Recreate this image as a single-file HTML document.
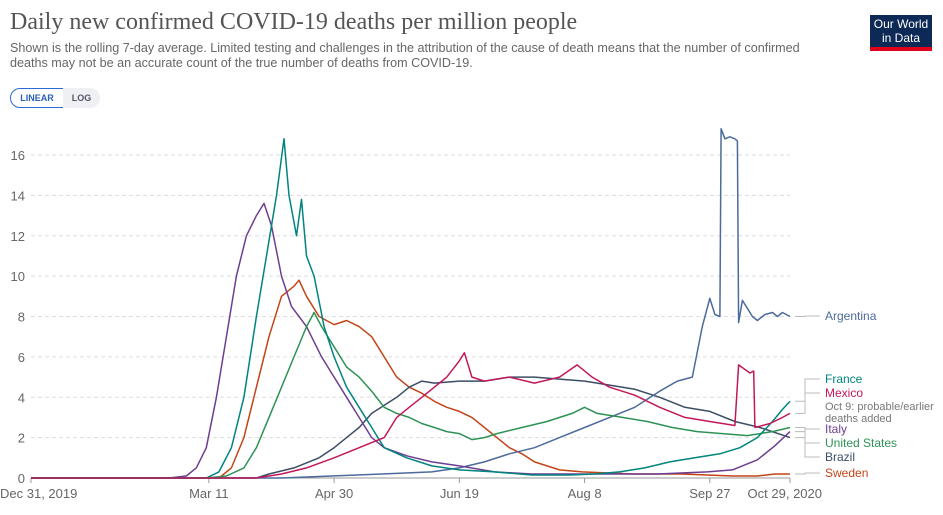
<!DOCTYPE html>
<html><head><meta charset="utf-8"><style>
body{margin:0;background:#fff;font-family:"Liberation Sans",sans-serif;}
#wrap{position:relative;width:943px;height:515px;overflow:hidden;}
.t{position:absolute;white-space:nowrap;}
</style></head><body>
<div id="wrap">
<div class="t" style="left:10px;top:9px;font-family:'Liberation Serif',serif;font-size:24px;color:#555;">Daily new confirmed COVID-19 deaths per million people</div>
<div class="t" style="left:10px;top:41px;font-size:12.6px;line-height:15px;color:#666;">Shown is the rolling 7-day average. Limited testing and challenges in the attribution of the cause of death means that the number of confirmed<br>deaths may not be an accurate count of the true number of deaths from COVID-19.</div>
<div style="position:absolute;left:870px;top:15px;width:62px;background:#0c2a55;border-bottom:4px solid #e0001b;color:#fff;font-size:12px;line-height:14px;text-align:center;padding-top:2px;height:30px;">Our World<br>in Data</div>
<div style="position:absolute;left:10px;top:88px;width:52px;height:18px;border:1px solid #2a6ad8;border-radius:10px 0 0 10px;font-size:9px;font-weight:bold;color:#2a5fb8;text-align:center;line-height:18px;">LINEAR</div>
<div style="position:absolute;left:63px;top:88px;width:37px;height:20px;background:#eef0f3;border-radius:0 10px 10px 0;font-size:9px;font-weight:bold;color:#556;text-align:center;line-height:20px;">LOG</div>
<svg id="svg" width="943" height="515" style="position:absolute;left:0;top:0"></svg>
</div>
<script>
const yTicks=[0,2,4,6,8,10,12,14,16];
const xTickDays=[0,71,121,171,221,271,303];
const xTickLabels=["Dec 31, 2019","Mar 11","Apr 30","Jun 19","Aug 8","Sep 27","Oct 29, 2020"];
const names=["Argentina","France","Mexico","Italy","United States","Brazil","Sweden"];
const colors={"Argentina":"#4c6a9c","France":"#00847e","Mexico":"#c2185b","Italy":"#6d3e91","United States":"#2e9254","Brazil":"#3c4e66","Sweden":"#c24417"};
const argDays=[0,100,120,140,160,171,181,191,201,211,221,231,241,251,258,264,268,271,273,275,275.5,277,279,281,282,282.5,284,286,288,290,293,296,298,300,303];
const argVals=[0,0,0.1,0.2,0.3,0.5,0.8,1.2,1.5,2,2.5,3,3.5,4.3,4.8,5,7.5,8.9,8.1,8.0,17.3,16.8,16.9,16.8,16.7,7.7,8.8,8.4,8.0,7.8,8.1,8.2,8.0,8.2,8.0];
const fraDays=[0,70,75,80,85,90,94,98,101,103,106,108,110,113,117,121,126,131,136,141,150,160,171,185,200,215,225,235,245,255,265,275,283,290,296,300,303];
const fraVals=[0,0,0.3,1.5,4,8,11,14,16.8,14,12,13.8,11,10,7.5,6,4.5,3.5,2.5,1.5,1,0.6,0.4,0.3,0.15,0.15,0.2,0.3,0.5,0.8,1,1.2,1.5,2,2.8,3.4,3.8];
const mexDays=[0,90,100,110,121,131,141,146,151,156,161,166,171,173,176,181,191,201,211,218,224,231,241,251,261,271,281,282.5,287,288.5,289,295,300,303];
const mexVals=[0,0,0.2,0.5,1,1.5,2,3,3.5,4,4.5,5,5.8,6.2,5,4.8,5,4.7,5,5.6,5,4.5,4.1,3.5,3,2.8,2.6,5.6,5.2,5.3,2.5,2.7,3.0,3.2];
const itaDays=[0,55,62,66,70,74,78,82,86,90,93,96,100,104,110,116,121,126,131,136,141,150,160,171,185,200,215,230,250,270,280,290,297,303];
const itaVals=[0,0,0.1,0.5,1.5,4,7,10,12,13,13.6,12.5,10,8.5,7.5,6,5,4,3,2,1.5,1.1,0.8,0.6,0.3,0.2,0.2,0.2,0.2,0.3,0.4,0.9,1.6,2.3];
const usaDays=[0,70,78,85,90,95,100,105,110,113,116,121,126,131,136,141,146,151,156,161,166,171,176,181,186,196,206,216,221,226,236,246,256,266,276,286,296,303];
const usaVals=[0,0,0.1,0.5,1.5,3,4.5,6,7.5,8.2,7.5,6.5,5.5,5,4.3,3.5,3.2,3,2.7,2.5,2.3,2.2,1.9,2,2.2,2.5,2.8,3.2,3.5,3.2,3.0,2.8,2.5,2.3,2.2,2.1,2.3,2.5];
const braDays=[0,90,95,105,115,121,126,131,136,141,146,151,156,161,171,181,191,201,211,221,231,241,251,261,271,281,291,303];
const braVals=[0,0,0.2,0.5,1,1.5,2,2.5,3.2,3.6,4,4.5,4.8,4.7,4.8,4.8,5,5,4.9,4.8,4.6,4.4,4,3.5,3.3,2.8,2.5,2.0];
const sweDays=[0,75,80,85,90,95,100,105,107,110,115,121,126,131,136,141,146,151,156,161,166,171,176,181,186,191,196,201,206,211,220,240,260,280,290,297,303];
const sweVals=[0,0,0.5,2,4.5,7,9,9.5,9.8,9,8,7.6,7.8,7.5,7,6,5,4.5,4.2,3.8,3.5,3.3,3,2.5,2,1.5,1.2,0.8,0.6,0.4,0.3,0.2,0.2,0.1,0.1,0.2,0.2];
const series={"Argentina":[argDays,argVals],"France":[fraDays,fraVals],"Mexico":[mexDays,mexVals],"Italy":[itaDays,itaVals],"United States":[usaDays,usaVals],"Brazil":[braDays,braVals],"Sweden":[sweDays,sweVals]};

const X0=31,X1=790,Y0=478,Y16=155,DMAX=303;
const x=d=>X0+d*(X1-X0)/DMAX;
const y=v=>Y0-v*(Y0-Y16)/16;
const svg=document.getElementById('svg');
const NS='http://www.w3.org/2000/svg';
function mk(tag,attrs){const e=document.createElementNS(NS,tag);for(const k in attrs)e.setAttribute(k,attrs[k]);svg.appendChild(e);return e;}
yTicks.forEach(v=>{
  if(v>0){const g=mk('line',{x1:31,x2:X1,y1:y(v),y2:y(v),stroke:'#ddd','stroke-dasharray':'4,3'});
  
  }
  const t=mk('text',{x:25,y:y(v)+5,'text-anchor':'end','font-size':13,fill:'#666','font-family':'Liberation Sans, sans-serif'});
  t.textContent=v;
  
  
});
const ax=mk('line',{x1:X0,x2:X1,y1:Y0,y2:Y0,stroke:'#999'});


xTickDays.forEach((d,i)=>{
  const tk=mk('line',{x1:x(d),x2:x(d),y1:Y0,y2:Y0+5,stroke:'#999'});
  
  
  const last=i===xTickDays.length-1;
  const anchor=last?'end':(i===0?'start':'middle');
  const t=mk('text',{x:last?x(d)+32:(i===0?0:x(d)),y:Y0+20,'text-anchor':anchor,'font-size':13,fill:'#666','font-family':'Liberation Sans, sans-serif'});
  t.textContent=xTickLabels[i];
  
  
});
const order=["Sweden","Brazil","Argentina","Italy","United States","France","Mexico"];
order.forEach(n=>{
  const [ds,vs]=series[n];
  const p=mk('path',{d:ds.map((d,i)=>(i?'L':'M')+x(d).toFixed(1)+','+y(vs[i]).toFixed(1)).join(''),fill:'none',stroke:colors[n],'stroke-width':1.5,'stroke-linejoin':'round'});
  
  
});
const labY={"Argentina":320,"France":383,"Mexico":397,"Italy":433,"United States":447,"Brazil":461,"Sweden":477};
names.forEach(n=>{
  const [ds,vs]=series[n];
  const ey=y(vs[vs.length-1]);const ly=labY[n]-4;
  const c=mk('path',{d:`M795,${ey}H805V${ly}H820`,fill:'none',stroke:'#bbb','stroke-width':1});
  
  
  const t=mk('text',{x:825,y:labY[n],'font-size':12,fill:colors[n],'font-family':'Liberation Sans, sans-serif'});
  t.textContent=n;
  
  
});
[["Oct 9: probable/earlier",410],["deaths added",422]].forEach(a=>{
  const t=mk('text',{x:825,y:a[1],'font-size':11,fill:'#777','font-family':'Liberation Sans, sans-serif'});
  t.textContent=a[0];
  
  
});
</script>
</body></html>
